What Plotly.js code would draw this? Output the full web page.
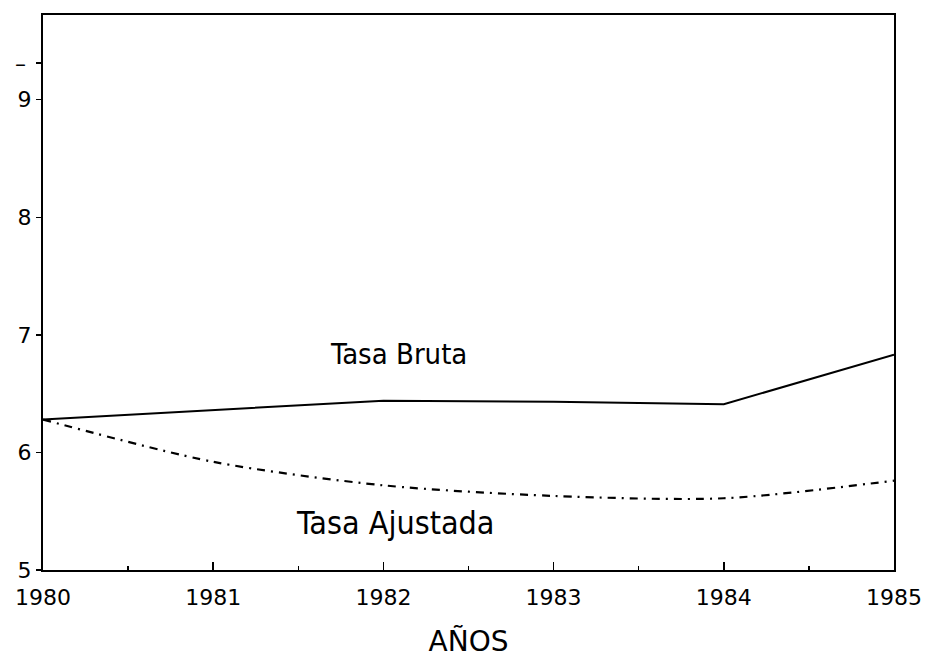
<!DOCTYPE html>
<html>
<head>
<meta charset="utf-8">
<script src="https://cdn.plot.ly/plotly-3.0.1.min.js"></script>
<style>html,body{margin:0;padding:0;background:#fff;}#chart{width:929px;height:658px;}</style>
</head>
<body>
<div id="chart"></div>
<script>
const years = [1980, 1981, 1982, 1983, 1984, 1985];
const tasaBruta = [6.28, 6.36, 6.44, 6.43, 6.41, 6.83];
const tasaAjustada = [6.28, 5.92, 5.72, 5.63, 5.61, 5.76];
const yTickVals = [5, 6, 7, 8, 9, 9.31];
const yTickText = ['5', '6', '7', '8', '9', ''];
const xTickVals = [1980, 1981, 1982, 1983, 1984, 1985];
const xTickText = ['1980', '1981', '1982', '1983', '1984', '1985'];

const font = 'DejaVu Sans, Arial, sans-serif';
const condensed = 'DejaVu Sans Condensed, DejaVu Sans, Arial, sans-serif';

const traces = [
  {
    x: years, y: tasaBruta, name: 'Tasa Bruta', type: 'scatter', mode: 'lines',
    line: {color: '#000', width: 2}
  },
  {
    x: years, y: tasaAjustada, name: 'Tasa Ajustada', type: 'scatter', mode: 'lines',
    line: {color: '#000', width: 2.2, dash: '8px,6px,2px,6px', shape: 'spline', smoothing: 0.8}
  }
];

const layout = {
  width: 929, height: 658,
  margin: {l: 43, r: 35, t: 15, b: 88},
  paper_bgcolor: '#fff', plot_bgcolor: '#fff',
  showlegend: false,
  font: {family: font, color: '#000'},
  xaxis: {
    range: [1980, 1985],
    tickvals: xTickVals, ticktext: xTickText,
    ticks: 'inside', ticklen: 8, tickwidth: 1.5, tickcolor: '#000',
    minor: {dtick: 0.5, tick0: 1980, ticks: 'inside', ticklen: 4, tickwidth: 1.5, tickcolor: '#000', showgrid: false},
    showline: true, linecolor: '#000', linewidth: 2, mirror: true,
    showgrid: false, zeroline: false,
    tickfont: {family: font, size: 22, color: '#000'},
    ticklabelstandoff: 7,
    title: {text: 'AÑOS', font: {family: font, size: 28, color: '#000'}, standoff: 22}
  },
  yaxis: {
    range: [5, 9.72],
    tickvals: yTickVals, ticktext: yTickText,
    ticks: 'outside', ticklen: 5, tickwidth: 1.5, tickcolor: '#000',
    showline: true, linecolor: '#000', linewidth: 2, mirror: true,
    showgrid: false, zeroline: false,
    tickfont: {family: font, size: 22, color: '#000'},
    ticklabelstandoff: 0
  },
  annotations: [
    {x: 1982.09, y: 6.84, xref: 'x', yref: 'y', text: 'Tasa Bruta', showarrow: false,
     font: {family: condensed, size: 29, color: '#000'}},
    {x: 1982.07, y: 5.40, xref: 'x', yref: 'y', text: 'Tasa Ajustada', showarrow: false,
     font: {family: condensed, size: 32, color: '#000'}},
    {x: -0.035, y: 9.31, xref: 'paper', yref: 'y', text: '–', showarrow: false,
     font: {family: font, size: 22, color: '#000'}}
  ]
};

Plotly.newPlot('chart', traces, layout, {displayModeBar: false, staticPlot: true});
</script>
</body>
</html>
